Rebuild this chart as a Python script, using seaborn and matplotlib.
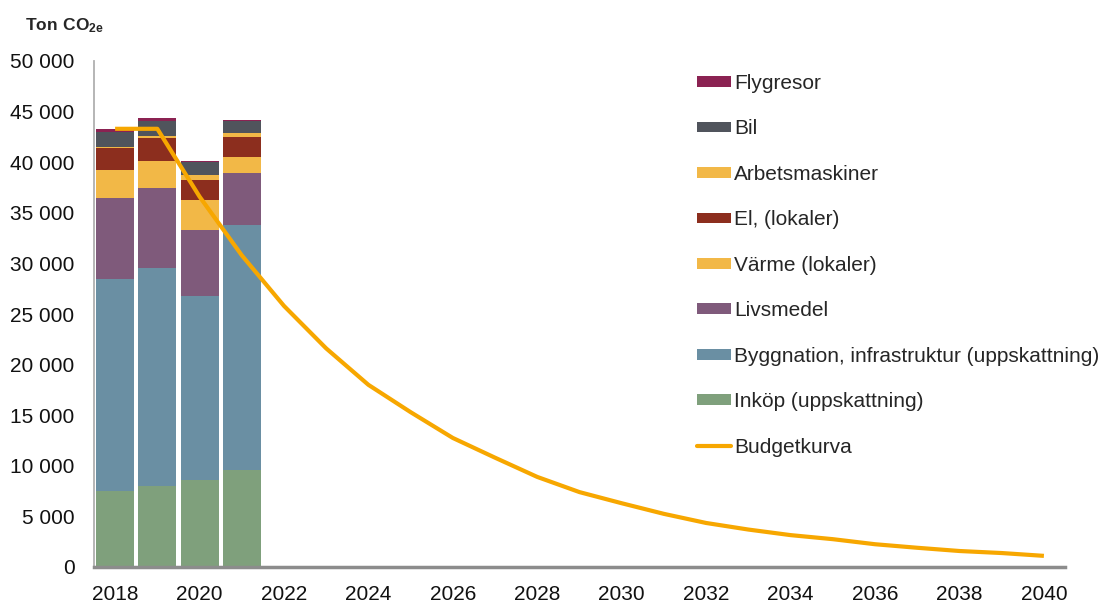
import numpy as np
import pandas as pd
import matplotlib
matplotlib.use("Agg")
import matplotlib.pyplot as plt
import seaborn as sns
from matplotlib.patches import Patch
from matplotlib.lines import Line2D
from matplotlib.ticker import FuncFormatter

# ---- data ----
bar_years = [2018, 2019, 2020, 2021]
inkop = [7500, 8000, 8600, 9580]
byggnation = [20950, 21540, 18170, 24210]
livsmedel = [8000, 7910, 6530, 5140]
varme = [2770, 2660, 2960, 1580]
el = [2160, 2270, 1980, 1970]
arbetsmaskiner = [100, 200, 490, 400]
bil = [1480, 1480, 1280, 1180]
flygresor = [300, 300, 100, 100]

budget_years = list(range(2018, 2041))
budget = [43300, 43300, 36600, 30800, 25800, 21600, 18000, 15300, 12750, 10800,
          8900, 7400, 6300, 5250, 4350, 3700, 3150, 2750, 2250, 1900, 1580, 1380, 1100]

# stack order bottom -> top
layers = [
    ("Inköp (uppskattning)", inkop, "#7fa07c"),
    ("Byggnation, infrastruktur (uppskattning)", byggnation, "#6a8fa3"),
    ("Livsmedel", livsmedel, "#7f5a7b"),
    ("Värme (lokaler)", varme, "#f2b847"),
    ("El, (lokaler)", el, "#8c2e1e"),
    ("Arbetsmaskiner", arbetsmaskiner, "#f2b847"),
    ("Bil", bil, "#50545c"),
    ("Flygresor", flygresor, "#8b2252"),
]
line_color = "#f7a700"

sns.set_theme(style="white")
plt.rcParams["font.family"] = ["Liberation Sans", "DejaVu Sans"]
plt.rcParams["mathtext.fontset"] = "custom"
plt.rcParams["mathtext.bf"] = "Liberation Sans:bold"
plt.rcParams["mathtext.rm"] = "Liberation Sans"

fig = plt.figure(figsize=(11.05, 6.02), dpi=100)
ax = fig.add_axes([94 / 1105, 35 / 602, (1065 - 94) / 1105, (567 - 61) / 602])

# cumulative heights, drawn from top layer down so each covers the one below
df = pd.DataFrame({"year": bar_years})
cum = np.zeros(len(bar_years))
cums = []
for name, vals, color in layers:
    cum = cum + np.array(vals)
    cums.append((name, cum.copy(), color))

for name, c, color in reversed(cums):
    df["v"] = c
    sns.barplot(data=df, x="year", y="v", native_scale=True, width=0.9,
                color=color, saturation=1, linewidth=0, ax=ax, zorder=2)

line_df = pd.DataFrame({"year": budget_years, "budget": budget})
sns.lineplot(data=line_df, x="year", y="budget", color=line_color,
             linewidth=3, ax=ax, zorder=5, solid_capstyle="butt")

ax.set_xlim(2017.5, 2040.5)
ax.set_ylim(0, 50000)
ax.set_xticks(range(2018, 2041, 2))
ax.set_yticks(range(0, 50001, 5000))
ax.yaxis.set_major_formatter(FuncFormatter(lambda v, p: f"{int(v):,}".replace(",", " ")))
ax.set_xlabel("")
ax.set_ylabel("")
ax.tick_params(axis="y", length=0, pad=14, labelsize=15, labelcolor="#111111")
ax.tick_params(axis="x", length=0, pad=13, labelsize=15, labelcolor="#111111")

for s in ["top", "right"]:
    ax.spines[s].set_visible(False)
ax.spines["left"].set_color("#b0b0b0")
ax.spines["left"].set_linewidth(1.3)
ax.spines["bottom"].set_color("#8c8c8c")
ax.spines["bottom"].set_linewidth(2.5)
ax.spines["left"].set_zorder(6)
ax.spines["bottom"].set_zorder(6)

fig.text(25 / 1105, 1 - 26 / 602, r"$\mathbf{Ton\ CO_{2e}}$", fontsize=12.5,
         ha="left", va="center")

# legend, top to bottom
handles = [Patch(facecolor=color, edgecolor="none") for name, vals, color in reversed(layers)]
labels = [name for name, vals, color in reversed(layers)]
handles.append(Line2D([], [], color=line_color, linewidth=3))
labels.append("Budgetkurva")
fig.legend(handles, labels, loc="upper left", bbox_to_anchor=(697 / 1105, 1 - 74 / 602),
           frameon=False, fontsize=15, handlelength=1.65, handleheight=0.42,
           handletextpad=0.12, labelspacing=1.27, borderpad=0, borderaxespad=0)

fig.savefig("out.png", dpi=100)
